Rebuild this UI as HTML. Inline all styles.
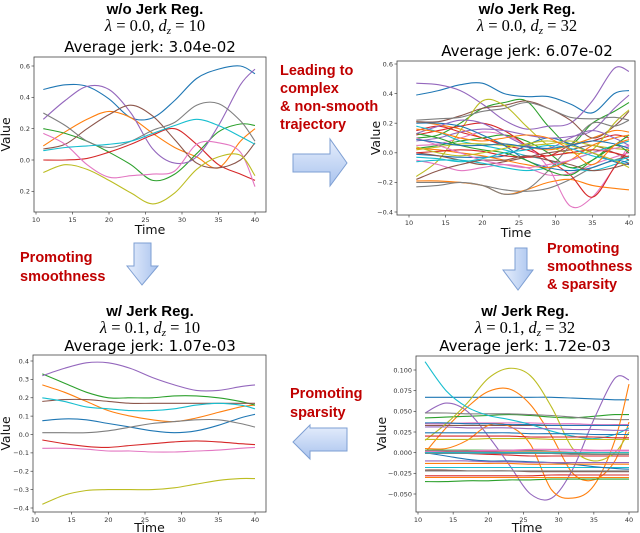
<!DOCTYPE html>
<html><head><meta charset="utf-8"><style>
body{margin:0;background:#fff;width:640px;height:533px;overflow:hidden}
svg{display:block;font-family:"DejaVu Sans","Liberation Sans",sans-serif}
.t{font-family:"Liberation Sans",Arial,sans-serif;font-weight:bold;font-size:15px;text-anchor:middle}
.lam{font-family:"Liberation Serif",serif;font-size:16.5px;text-anchor:middle}
.avg{font-size:15px;text-anchor:middle}
.red{font-family:"Liberation Sans",Arial,sans-serif;font-weight:bold;font-size:14.5px;fill:#c00000}
.tick{font-size:6.5px;fill:#333}
.al{font-size:12.5px;fill:#111}
</style></head><body>
<svg id="fig" width="640" height="533" viewBox="0 0 640 533">
<defs><linearGradient id="ag" x1="0" y1="0" x2="0" y2="1"><stop offset="0" stop-color="#e6eefc"/><stop offset="1" stop-color="#a9c3ee"/></linearGradient>
<linearGradient id="agh" x1="0" y1="0" x2="1" y2="0"><stop offset="0" stop-color="#e6eefc"/><stop offset="1" stop-color="#a9c3ee"/></linearGradient></defs>
<g>
<text class="t" x="155" y="14">w/o Jerk Reg.</text>
<text class="lam" x="155" y="31"><tspan font-style="italic">λ</tspan> = 0.0, <tspan font-style="italic">d</tspan><tspan font-style="italic" font-size="11" dy="3">z</tspan><tspan dy="-3"> = 10</tspan></text>
<text class="avg" x="150" y="52">Average jerk: 3.04e-02</text>
<text class="t" x="527" y="14">w/o Jerk Reg.</text>
<text class="lam" x="527" y="31"><tspan font-style="italic">λ</tspan> = 0.0, <tspan font-style="italic">d</tspan><tspan font-style="italic" font-size="11" dy="3">z</tspan><tspan dy="-3"> = 32</tspan></text>
<text class="avg" x="527" y="56">Average jerk: 6.07e-02</text>
<text class="t" x="150" y="316">w/ Jerk Reg.</text>
<text class="lam" x="150" y="333"><tspan font-style="italic">λ</tspan> = 0.1, <tspan font-style="italic">d</tspan><tspan font-style="italic" font-size="11" dy="3">z</tspan><tspan dy="-3"> = 10</tspan></text>
<text class="avg" x="150" y="351">Average jerk: 1.07e-03</text>
<text class="t" x="525" y="316">w/ Jerk Reg.</text>
<text class="lam" x="525" y="333"><tspan font-style="italic">λ</tspan> = 0.1, <tspan font-style="italic">d</tspan><tspan font-style="italic" font-size="11" dy="3">z</tspan><tspan dy="-3"> = 32</tspan></text>
<text class="avg" x="525" y="351">Average jerk: 1.72e-03</text>
</g>
<g>
<text class="red" x="280" y="75"><tspan x="280">Leading to</tspan><tspan x="280" dy="18">complex</tspan><tspan x="280" dy="18">&amp; non-smooth</tspan><tspan x="280" dy="18">trajectory</tspan></text>
<text class="red" x="20" y="262"><tspan x="20">Promoting</tspan><tspan x="20" dy="19">smoothness</tspan></text>
<text class="red" x="547" y="253"><tspan x="547">Promoting</tspan><tspan x="547" dy="18">smoothness</tspan><tspan x="547" dy="18">&amp; sparsity</tspan></text>
<text class="red" x="290" y="398"><tspan x="290">Promoting</tspan><tspan x="290" dy="19">sparsity</tspan></text>
<polygon points="293,154 330,154 330,139 347,163 330,186 330,172 293,172" fill="url(#ag)" stroke="#7e9fd3" stroke-width="1"/>
<polygon points="134,243 151,243 151,266 158,266 142,285 127,266 134,266" fill="url(#agh)" stroke="#7e9fd3" stroke-width="1"/>
<polygon points="515,248 527,248 527,270 533,270 518,290 503,270 515,270" fill="url(#agh)" stroke="#7e9fd3" stroke-width="1"/>
<polygon points="347,428 310,428 310,425 293,442 310,459 310,451 347,451" fill="url(#ag)" stroke="#7e9fd3" stroke-width="1"/>
</g>
<g id="charts"></g>
</svg>
<script>
const times=[11,14,17,20,23,26,29,32,35,38,40];
const xTicks=[10,15,20,25,30,35,40];
const colors=["#1f77b4","#ff7f0e","#2ca02c","#d62728","#9467bd","#8c564b","#e377c2","#7f7f7f","#bcbd22","#17becf"];
// panel 1: lambda 0, dz 10
const p1Ticks=[0.6,0.4,0.2,0.0,-0.2];
const p1Labels=["0.6","0.4","0.2","0.0","0.2"];
const p1Series=[
[.45,.48,.47,.39,.27,.27,.38,.52,.58,.60,.55],
[.09,.18,.26,.31,.27,.17,.08,.02,-.05,.12,.2],
[.2,.17,.12,.05,-.03,-.13,-.09,.04,.18,.23,.22],
[.0,.0,.01,.05,.1,.16,.2,.1,-.03,-.09,-.13],
[.26,.38,.47,.45,.3,.07,-.02,.02,.22,.48,.58],
[.07,.1,.2,.29,.35,.28,.13,-.02,-.05,.0,.11],
[.17,.1,-.03,-.11,-.1,-.09,-.07,.1,.11,.05,-.17],
[.3,.22,.12,.08,.12,.19,.24,.35,.36,.25,.12],
[-.08,-.03,-.06,-.13,-.21,-.28,-.21,-.06,.02,.03,-.1],
[.06,.08,.09,.1,.12,.17,.22,.26,.22,.15,.1]];
// panel 2: lambda 0, dz 32
const p2Ticks=[0.6,0.4,0.2,0.0,-0.2,-0.4];
const p2Labels=["0.6","0.4","0.2","0.0","\u22120.2","\u22120.4"];
const p2Series=[
[.39,.42,.46,.47,.40,.38,.38,.33,.27,.40,.42],
[.21,.19,.16,.10,.06,.04,.02,.05,.10,.15,.14],
[.10,.12,.20,.30,.34,.35,.18,.06,.20,.28,.34],
[.15,.18,.14,.10,.05,.02,-.02,.05,.08,.12,.10],
[.47,.46,.42,.33,.22,.16,.18,.20,.35,.57,.55],
[.21,.21,.25,.30,.32,.35,.30,.22,.10,.18,.28],
[.05,.06,.10,.14,.12,.05,-.10,-.36,-.30,-.10,.05],
[-.20,-.20,-.20,-.22,-.25,-.26,-.24,-.18,-.10,-.05,-.02],
[-.16,-.05,.15,.35,.32,.18,.05,.00,.02,.20,.29],
[.18,.14,.08,.05,.02,-.02,-.05,-.10,-.12,-.08,-.05],
[-.01,-.02,-.03,-.03,-.02,.05,.10,.06,.00,-.06,-.08],
[-.19,-.19,-.20,-.22,-.28,-.25,-.20,-.18,-.22,-.24,-.25],
[.03,.05,.08,.10,.12,.08,.00,-.10,-.05,.05,.12],
[.12,.15,.18,.20,.15,.05,-.05,-.15,-.30,-.10,.02],
[.08,.10,.14,.16,.15,.12,.10,.11,.15,.30,.39],
[.00,-.02,-.05,-.08,-.06,-.03,.00,.02,.05,.00,-.05],
[-.05,-.08,-.12,-.10,-.08,-.10,-.15,-.14,-.08,-.03,.00],
[-.23,-.22,-.20,-.22,-.28,-.25,-.12,.05,.20,.18,.22],
[.02,.04,.06,.06,.05,.05,.06,.08,.05,.03,.02],
[-.06,-.05,-.05,-.07,-.10,-.12,-.10,-.05,.00,.05,.08],
[.20,.20,.18,.12,.05,-.05,-.10,-.12,-.10,-.05,-.07],
[.03,.02,.00,-.02,-.05,-.08,-.10,-.05,.05,.10,.12],
[.13,.10,.05,.02,.00,-.05,-.12,-.15,-.05,.05,.00],
[.00,.01,.02,.01,-.02,-.03,-.02,.00,.02,.00,-.03],
[.13,.18,.22,.20,.12,.05,.03,.10,.15,.10,.05],
[-.18,-.12,-.08,-.05,-.05,-.02,-.05,-.08,-.12,-.10,-.07],
[.10,.05,.00,-.05,-.08,-.10,-.08,-.05,.00,.03,.05],
[.22,.23,.24,.28,.30,.34,.30,.24,.23,.24,.22],
[.04,.00,-.02,.00,.03,.06,.08,.05,.00,-.05,-.10],
[-.03,-.04,-.06,-.04,.00,.02,.05,.03,-.02,-.05,-.03],
[.09,.07,.05,.05,.06,.04,.03,.05,.08,.06,.03],
[.16,.14,.10,.08,.10,.12,.10,.02,-.08,.05,.09]];
// panel 3: lambda 0.1, dz 10
const p3Ticks=[0.4,0.3,0.2,0.1,0.0,-0.1,-0.2,-0.3,-0.4];
const p3Labels=["0.4","0.3","0.2","0.1","0.0","\u22120.1","\u22120.2","\u22120.3","\u22120.4"];
const p3Series=[
[.075,.085,.08,.06,.04,.02,.01,.02,.05,.09,.11],
[.27,.23,.18,.13,.10,.08,.07,.09,.12,.15,.16],
[.33,.28,.23,.20,.20,.20,.21,.21,.20,.18,.16],
[-.03,-.05,-.065,-.07,-.06,-.05,-.04,-.035,-.04,-.05,-.055],
[.32,.36,.39,.39,.36,.31,.27,.24,.24,.26,.27],
[.18,.19,.19,.18,.17,.17,.17,.17,.17,.17,.17],
[-.075,-.075,-.08,-.09,-.09,-.095,-.095,-.09,-.085,-.075,-.07],
[.01,.01,.01,.02,.04,.06,.07,.08,.08,.06,.04],
[-.38,-.33,-.305,-.30,-.30,-.30,-.29,-.27,-.25,-.24,-.24],
[.20,.18,.15,.14,.13,.13,.14,.16,.17,.16,.14]];
// panel 4: lambda 0.1, dz 32
const p4Ticks=[0.1,0.075,0.05,0.025,0.0,-0.025,-0.05];
const p4Labels=["0.100","0.075","0.050","0.025","0.000","\u22120.025","\u22120.050"];
const p4Series=[
[.067,.067,.067,.067,.067,.067,.067,.066,.065,.064,.064],
[.0,.03,.055,.074,.077,.058,.02,-.025,-.033,-.01,.037],
[.042,.043,.044,.045,.046,.045,.043,.042,.044,.046,.046],
[.0,.0,-.001,-.002,-.003,-.004,-.004,-.004,-.004,-.004,-.004],
[.048,.06,.05,.02,-.015,-.05,-.055,-.02,.04,.09,.088],
[.033,.033,.033,.033,.033,.033,.033,.033,.033,.033,.033],
[.035,.035,.036,.036,.036,.036,.035,.035,.034,.034,.034],
[.048,.048,.047,.047,.047,.046,.045,.043,.041,.040,.040],
[.015,.035,.06,.09,.102,.093,.055,.005,-.01,.0,.025],
[.11,.075,.055,.045,.04,.034,.026,.02,.017,.022,.03],
[.024,.024,.024,.024,.024,.023,.023,.023,.022,.022,.022],
[.005,.005,.015,.033,.032,.01,-.045,-.055,-.04,.015,.083],
[.003,.003,.003,.003,.003,.003,.002,.002,.002,.002,.002],
[-.028,-.028,-.028,-.028,-.028,-.028,-.027,-.027,-.027,-.027,-.027],
[.031,.031,.030,.030,.030,.029,.029,.028,.028,.027,.027],
[-.021,-.021,-.022,-.022,-.022,-.023,-.023,-.023,-.023,-.023,-.023],
[.002,.002,.002,.003,.003,.004,.004,.004,.003,.003,.003],
[-.022,-.022,-.022,-.022,-.022,-.022,-.022,-.022,-.022,-.022,-.022],
[.0,.0,.001,.001,.001,.001,.001,.0,.0,.0,.0],
[-.018,-.018,-.018,-.018,-.018,-.018,-.018,-.018,-.018,-.018,-.018],
[.0,-.004,-.008,-.01,-.01,-.011,-.012,-.014,-.017,-.019,-.02],
[-.03,-.03,-.03,-.03,-.03,-.03,-.03,-.03,-.03,-.03,-.03],
[-.035,-.035,-.034,-.034,-.033,-.033,-.032,-.032,-.032,-.032,-.032],
[.02,.02,.02,.02,.02,.019,.019,.019,.019,.018,.018],
[-.01,-.01,-.01,-.011,-.011,-.012,-.012,-.012,-.012,-.012,-.012],
[.001,.001,.001,.001,.0,.0,-.001,-.001,-.002,-.002,-.002],
[.001,.002,.002,.002,.002,.002,.002,.002,.002,.002,.002],
[-.001,-.001,-.001,-.001,-.001,-.001,-.001,-.002,-.002,-.002,-.002],
[.016,.016,.016,.017,.017,.017,.016,.016,.016,.016,.016],
[.0,.0,.0,.0,.0,.0,.0,.0,.0,.0,.0],
[.036,.036,.035,.035,.034,.034,.033,.033,.033,.033,.033],
[-.013,-.013,-.013,-.013,-.013,-.014,-.014,-.014,-.014,-.014,-.014]];

const NS="http://www.w3.org/2000/svg";
const root=document.getElementById('charts');
function mk(tag,attrs,parent){const e=document.createElementNS(NS,tag);for(const k in attrs)e.setAttribute(k,attrs[k]);parent.appendChild(e);return e;}
function smooth(pts){let d=`M${pts[0][0].toFixed(1)},${pts[0][1].toFixed(1)}`;
 for(let i=0;i<pts.length-1;i++){const p0=pts[Math.max(0,i-1)],p1=pts[i],p2=pts[i+1],p3=pts[Math.min(pts.length-1,i+2)];
  const c1=[p1[0]+(p2[0]-p0[0])/6,p1[1]+(p2[1]-p0[1])/6],c2=[p2[0]-(p3[0]-p1[0])/6,p2[1]-(p3[1]-p1[1])/6];
  d+=`C${c1[0].toFixed(1)},${c1[1].toFixed(1)} ${c2[0].toFixed(1)},${c2[1].toFixed(1)} ${p2[0].toFixed(1)},${p2[1].toFixed(1)}`;}
 return d;}
function panel(name,box,tx,vy,ticks,labels,series,ylx,tly){
 const g=mk('g',{},root);
 
 
 const X=t=>tx[0]+(t-10)/30*(tx[1]-tx[0]);
 const Y=v=>vy[1]+(v-vy[0])/(vy[2]-vy[0])*(vy[3]-vy[1]);
 const lines=mk('g',{},g);
 
 
 series.forEach((s,i)=>{const p=mk('path',{d:smooth(s.map((v,j)=>[X(times[j]),Y(v)])),fill:'none',stroke:colors[i%10],'stroke-width':1.1},lines);
  
  });
 const fr=mk('rect',{x:box[0],y:box[1],width:box[2]-box[0],height:box[3]-box[1],fill:'none',stroke:'#444','stroke-width':0.8},g);
 
 
 xTicks.forEach(t=>{const x=X(t);mk('line',{x1:x,x2:x,y1:box[3],y2:box[3]+2.5,stroke:'#444','stroke-width':0.7},g);
  const l=mk('text',{x:x,y:box[3]+10,class:'tick','text-anchor':'middle'},g);l.textContent=t;
  
  });
 ticks.forEach((v,i)=>{const y=Y(v);mk('line',{x1:box[0]-2.5,x2:box[0],y1:y,y2:y,stroke:'#444','stroke-width':0.7},g);
  const l=mk('text',{x:box[0]-4,y:y+2.3,class:'tick','text-anchor':'end'},g);l.textContent=labels[i];
  
  });
 const yl=mk('text',{x:ylx,y:(box[1]+box[3])/2,class:'al','text-anchor':'middle',transform:`rotate(-90 ${ylx} ${(box[1]+box[3])/2})`},g);yl.textContent='Value';
 
 
 const xl=mk('text',{x:(box[0]+box[2])/2,y:tly,class:'al','text-anchor':'middle'},g);xl.textContent='Time';
 
 
}
panel('chart-top-left',[34,57,266,212],[36,255],[0.6,66,0,160],p1Ticks,p1Labels,p1Series,10,234);
panel('chart-top-right',[397,61,635,215],[409,629],[0.6,64,-0.4,212],p2Ticks,p2Labels,p2Series,380,237);
panel('chart-bottom-left',[33,355,266,512],[35,255],[0.4,361,-0.4,508],p3Ticks,p3Labels,p3Series,10,532);
panel('chart-bottom-right',[416,356,638,512],[418,629],[0.1,370,-0.05,494],p4Ticks,p4Labels,p4Series,386,532);
</script>
</body></html>
